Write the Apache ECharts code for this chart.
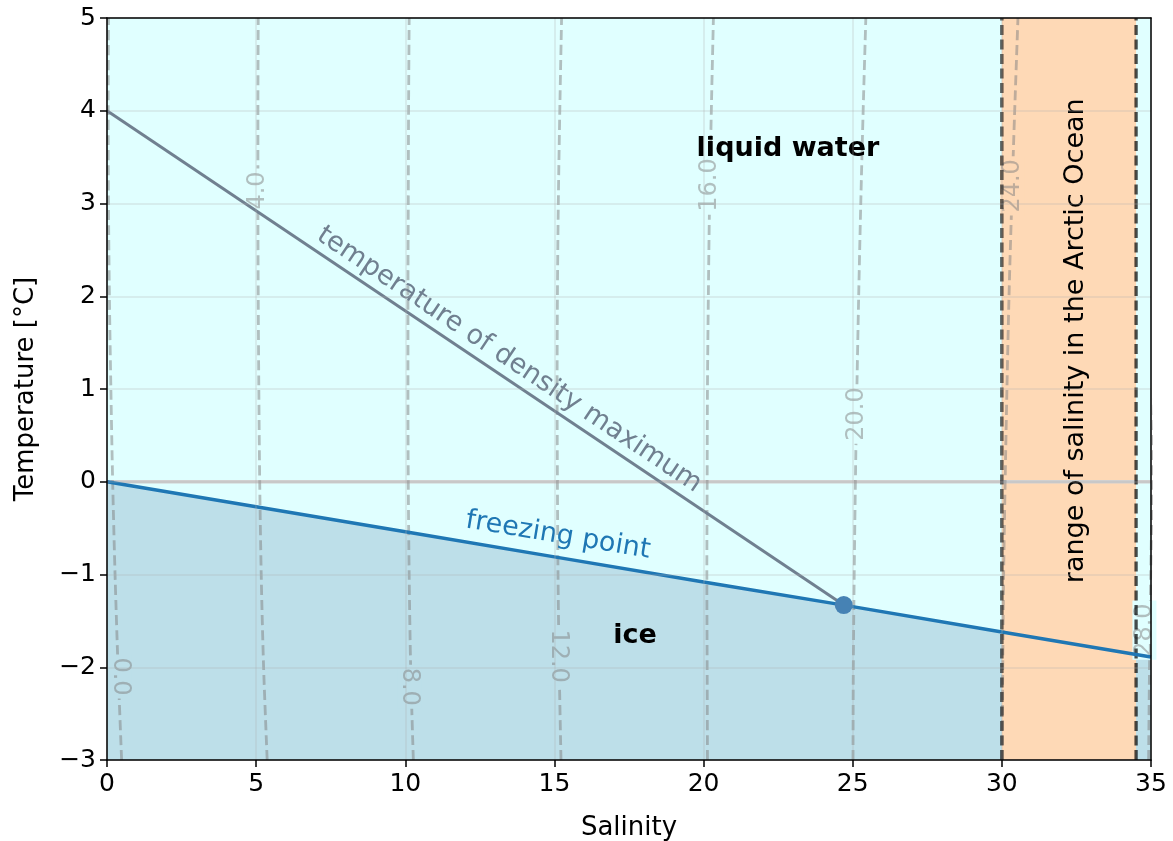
<!DOCTYPE html>
<html><head><meta charset="utf-8">
<script src="https://cdn.jsdelivr.net/npm/echarts@6/dist/echarts.min.js"></script>
<style>html,body{margin:0;padding:0;background:#fff}#c{width:1173px;height:841px}</style>
</head><body><div id="c"></div>
<script>
// ---------- data ----------
const xTicks = [0, 5, 10, 15, 20, 25, 30, 35];
const yTicks = [-3, -2, -1, 0, 1, 2, 3, 4, 5];

// freezing point curve (salinity, temperature)
const freezingS = [0, 5, 10, 15, 20, 24.7, 30, 35];
const freezingT = [0, -0.27, -0.54, -0.81, -1.08, -1.33, -1.62, -1.89];

// temperature of density maximum
const densMaxS = [0, 24.7];
const densMaxT = [4, -1.33];

// intersection point
const crossS = [24.7];
const crossT = [-1.33];

// Arctic ocean salinity range
const arcticRange = [30, 34.5];

// density (sigma) contours: salinity at each temperature level
const contourTemps = [-3, -2, -1, 0, 1, 2, 3, 4, 5];
const sigmaLevels = ['0.0', '4.0', '8.0', '12.0', '16.0', '20.0', '24.0', '28.0'];
const sigma0  = [0.49, 0.37, 0.27, 0.19, 0.13, 0.08, 0.05, 0.04, 0.05];
const sigma4  = [5.37, 5.25, 5.17, 5.12, 5.09, 5.07, 5.06, 5.06, 5.07];
const sigma8  = [10.27, 10.18, 10.13, 10.10, 10.09, 10.09, 10.10, 10.11, 10.13];
const sigma12 = [15.22, 15.16, 15.12, 15.10, 15.09, 15.10, 15.13, 15.18, 15.24];
const sigma16 = [20.13, 20.12, 20.11, 20.12, 20.13, 20.16, 20.20, 20.26, 20.33];
const sigma20 = [25.01, 25.02, 25.05, 25.09, 25.14, 25.20, 25.27, 25.35, 25.44];
const sigma24 = [30.01, 30.03, 30.06, 30.11, 30.17, 30.24, 30.33, 30.43, 30.54];
const sigma28 = [34.92, 34.95, 34.99, 35.05, 35.12, 35.20, 35.30, 35.40, 35.52];

// contour label positions (salinity, temperature) and whether they read downward
const contourLabelS = [0.43, 5.05, 10.14, 15.14, 20.2, 25.12, 30.35, 34.78];
const contourLabelT = [-2.1, 3.14, -2.21, -1.88, 3.2, 0.73, 3.19, -1.6];
const contourLabelDown = [true, false, true, true, false, false, false, false];
const contourLabelRegion = ['ice', 'water', 'ice', 'ice', 'water', 'water', 'arctic', 'water'];

// annotation texts
const annotTexts = ['liquid water', 'ice', 'range of salinity in the Arctic Ocean', 'temperature of density maximum', 'freezing point'];
const annotS = [22.83, 17.7, 32.48, 13.48, 15.12];
const annotT = [3.59, -1.66, 1.52, 1.315, -0.58];

// ---------- styles ----------
const FONT = 'DejaVu Sans';
const C_WATER = '#e0ffff';
const C_ICE = '#bddfe9';
const C_ARCTIC = '#fed9b6';
const C_CONTOUR = 'rgba(128,128,128,0.5)';
const regionColor = {ice: C_ICE, water: C_WATER, arctic: C_ARCTIC};
const fmt = v => (v < 0 ? '\u2212' + Math.abs(v) : String(v));

const contours = [sigma0, sigma4, sigma8, sigma12, sigma16, sigma20, sigma24, sigma28];

const series = [];
// ice area
series.push({
  type: 'line', silent: true, z: 1, symbol: 'none',
  data: freezingS.map((s, i) => [s, freezingT[i]]),
  lineStyle: {width: 0},
  areaStyle: {color: C_ICE, opacity: 1, origin: 'start'}
});
// arctic band (area from top of axis down to bottom)
series.push({
  type: 'line', silent: true, z: 2, symbol: 'none',
  data: arcticRange.map(s => [s, yTicks[yTicks.length - 1]]),
  lineStyle: {width: 0},
  areaStyle: {color: C_ARCTIC, opacity: 1, origin: 'start'}
});
// zero line
series.push({
  type: 'line', silent: true, z: 3, symbol: 'none',
  data: [[xTicks[0], 0], [xTicks[xTicks.length - 1], 0]],
  lineStyle: {color: '#d0d0d0', width: 3.5}
});
// contours
contours.forEach((arr, k) => {
  series.push({
    type: 'line', silent: true, z: 4, symbol: 'none', smooth: 0.3,
    data: arr.map((s, i) => [s, contourTemps[i]]),
    lineStyle: {color: C_CONTOUR, width: 2.8, type: [10, 5]}
  });
});
// contour labels
series.push({
  type: 'scatter', silent: true, z: 5, symbolSize: 0,
  itemStyle: {opacity: 1},
  data: contourLabelS.map((s, i) => ({
    value: [s, contourLabelT[i]],
    label: {
      show: true, position: 'inside', formatter: sigmaLevels[i],
      rotate: contourLabelDown[i] ? -90 : 90,
      fontFamily: FONT, fontSize: 24, color: C_CONTOUR,
      backgroundColor: regionColor[contourLabelRegion[i]],
      padding: [0, 3], align: 'center', verticalAlign: 'middle'
    }
  }))
});
// arctic range dashed lines
arcticRange.forEach(s => {
  series.push({
    type: 'line', silent: true, z: 6, symbol: 'none',
    data: [[s, yTicks[0]], [s, yTicks[yTicks.length - 1]]],
    lineStyle: {color: 'rgba(0,0,0,0.7)', width: 3.3, type: [10, 4.5]}
  });
});
// density maximum line
series.push({
  type: 'line', silent: true, z: 7, symbol: 'none',
  data: densMaxS.map((s, i) => [s, densMaxT[i]]),
  lineStyle: {color: '#708090', width: 3}
});
// freezing line
series.push({
  type: 'line', silent: true, z: 7, symbol: 'none',
  data: freezingS.map((s, i) => [s, freezingT[i]]),
  lineStyle: {color: '#1f77b4', width: 3.5}
});
// intersection point
series.push({
  type: 'scatter', silent: true, z: 8, symbolSize: 18,
  data: crossS.map((s, i) => [s, crossT[i]]),
  itemStyle: {color: '#4682b4', opacity: 1}
});
// annotations
const annotStyle = [
  {fontWeight: 'bold', color: '#000', rotate: 0},
  {fontWeight: 'bold', color: '#000', rotate: 0},
  {fontWeight: 'normal', color: '#000', rotate: 90},
  {fontWeight: 'normal', color: '#708090', rotate: -33.8},
  {fontWeight: 'normal', color: '#1f77b4', rotate: -9.46}
];
series.push({
  type: 'scatter', silent: true, z: 9, symbolSize: 0,
  itemStyle: {opacity: 1},
  data: annotS.map((s, i) => ({
    value: [s, annotT[i]],
    label: Object.assign({
      show: true, position: 'inside', formatter: annotTexts[i],
      fontFamily: FONT, fontSize: 27, align: 'center', verticalAlign: 'middle'
    }, annotStyle[i])
  }))
});

const axisCommon = {
  axisLine: {show: true, onZero: false, lineStyle: {color: '#000', width: 1.5}},
  z: 10
};
const option = {
  animation: false,
  grid: {left: 107, right: 22, top: 18, bottom: 81, show: true, backgroundColor: C_WATER, borderWidth: 0,
         containLabel: false, outerBoundsMode: 'none'},
  xAxis: [
    Object.assign({
      type: 'value', min: xTicks[0], max: xTicks[xTicks.length - 1], interval: 5,
      name: 'Salinity', nameLocation: 'middle', nameGap: 55,
      nameTextStyle: {fontFamily: FONT, fontSize: 26, color: '#000'},
      axisTick: {show: true, length: 7, lineStyle: {color: '#000', width: 1.5}},
      axisLabel: {fontFamily: FONT, fontSize: 25, color: '#000', margin: 12, formatter: fmt},
      splitLine: {show: true, lineStyle: {color: 'rgba(176,176,176,0.3)', width: 1.5}}
    }, axisCommon),
    Object.assign({
      type: 'value', position: 'top', min: xTicks[0], max: xTicks[xTicks.length - 1], interval: 5,
      axisTick: {show: false}, axisLabel: {show: false}, splitLine: {show: false}
    }, axisCommon)
  ],
  yAxis: [
    Object.assign({
      type: 'value', min: yTicks[0], max: yTicks[yTicks.length - 1], interval: 1,
      name: 'Temperature [°C]', nameLocation: 'middle', nameGap: 68,
      nameTextStyle: {fontFamily: FONT, fontSize: 26, color: '#000'},
      axisTick: {show: true, length: 7, lineStyle: {color: '#000', width: 1.5}},
      axisLabel: {fontFamily: FONT, fontSize: 25, color: '#000', margin: 11, formatter: fmt},
      splitLine: {show: true, lineStyle: {color: 'rgba(176,176,176,0.3)', width: 1.5}}
    }, axisCommon),
    Object.assign({
      type: 'value', position: 'right', min: yTicks[0], max: yTicks[yTicks.length - 1], interval: 1,
      axisTick: {show: false}, axisLabel: {show: false}, splitLine: {show: false}
    }, axisCommon)
  ],
  series: series
};
const chart = echarts.init(document.getElementById('c'), null, {renderer: 'canvas'});
chart.setOption(option);
</script>
</body></html>
